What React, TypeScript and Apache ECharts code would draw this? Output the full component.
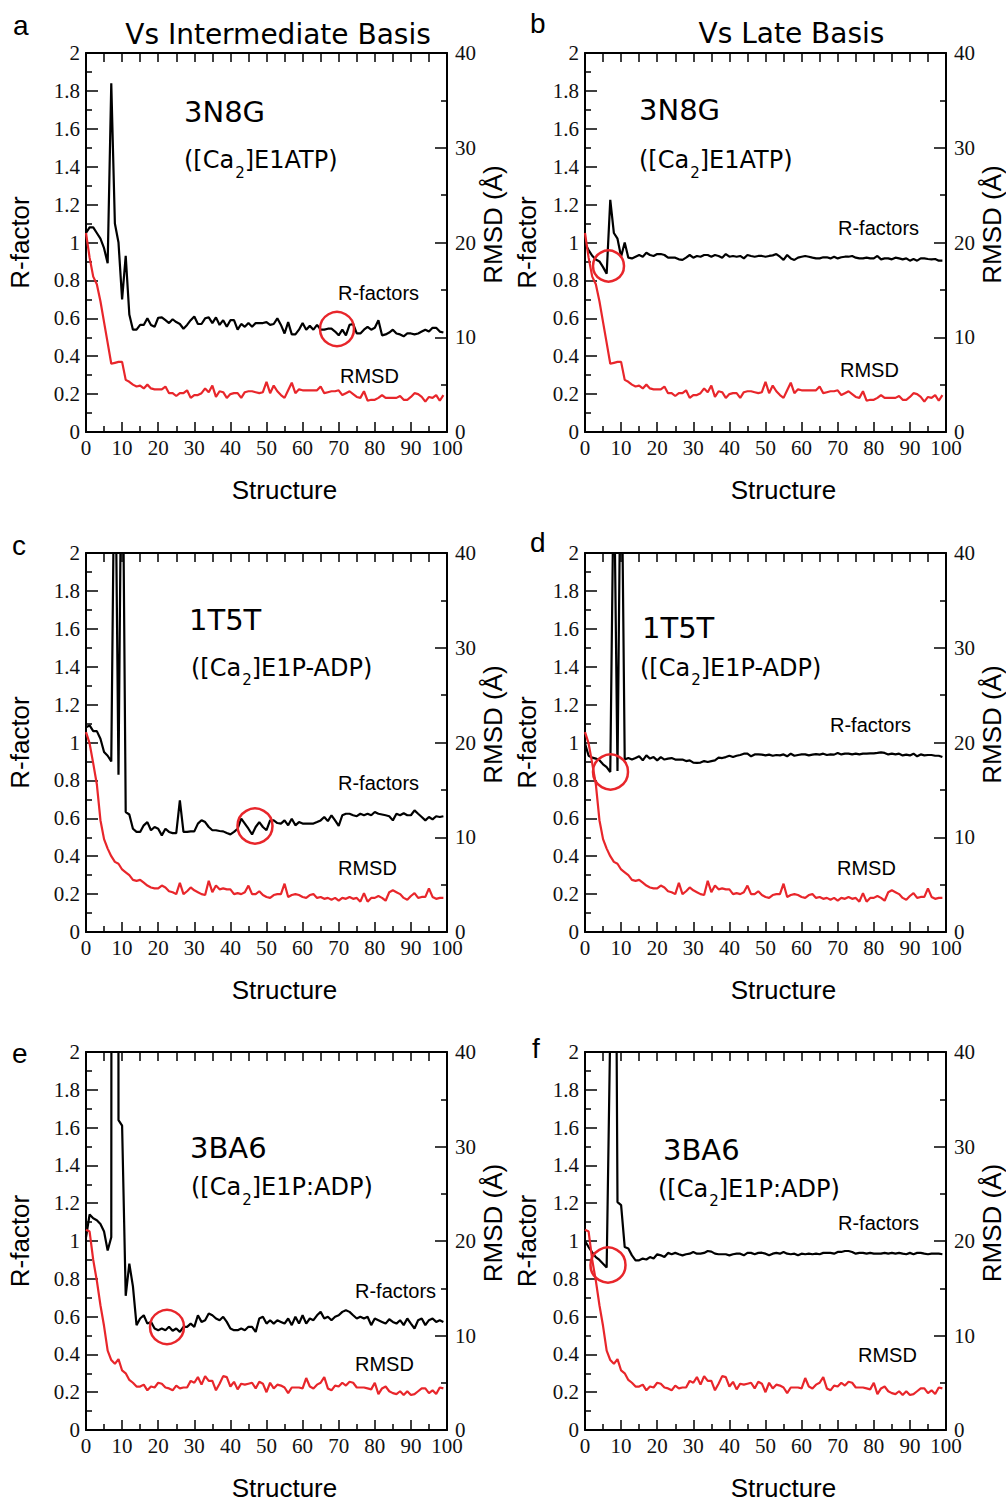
import React, { useEffect, useRef } from "react";
import * as echarts from "echarts";

// ---- R-factor series (left axis) ----
const rfA = [
  1.05, 1.08, 1.08, 1.05, 1.02, 0.97, 0.89, 1.84, 1.10, 1.00,
  0.70, 0.93, 0.62, 0.54, 0.54, 0.565, 0.565, 0.60, 0.565, 0.555,
  0.603, 0.605, 0.59, 0.575, 0.595, 0.58, 0.57, 0.545, 0.565, 0.59,
  0.61, 0.57, 0.57, 0.60, 0.605, 0.575, 0.605, 0.565, 0.59, 0.555,
  0.59, 0.59, 0.54, 0.57, 0.555, 0.575, 0.555, 0.575, 0.575, 0.575,
  0.58, 0.565, 0.57, 0.60, 0.565, 0.52, 0.58, 0.515, 0.515, 0.54,
  0.575, 0.54, 0.56, 0.54, 0.565, 0.54, 0.54, 0.545, 0.545, 0.53,
  0.51, 0.54, 0.51, 0.565, 0.57, 0.52, 0.52, 0.54, 0.555, 0.54,
  0.55, 0.59, 0.51, 0.515, 0.525, 0.54, 0.52, 0.515, 0.505, 0.52,
  0.52, 0.515, 0.52, 0.53, 0.54, 0.53, 0.55, 0.55, 0.53, 0.525,
];
const rfB = [
  0.995, 0.96, 0.93, 0.91, 0.90, 0.87, 0.835, 1.225, 1.05, 1.02,
  0.925, 1.0, 0.92, 0.916, 0.925, 0.934, 0.925, 0.946, 0.934, 0.929,
  0.939, 0.939, 0.934, 0.92, 0.92, 0.92, 0.911, 0.908, 0.92, 0.934,
  0.92, 0.929, 0.925, 0.934, 0.934, 0.925, 0.934, 0.929, 0.92, 0.939,
  0.925, 0.929, 0.925, 0.929, 0.916, 0.934, 0.929, 0.925, 0.929, 0.929,
  0.925, 0.929, 0.932, 0.939, 0.925, 0.908, 0.934, 0.916, 0.908, 0.92,
  0.925, 0.929, 0.925, 0.92, 0.916, 0.916, 0.922, 0.922, 0.916, 0.925,
  0.916, 0.922, 0.925, 0.925, 0.929, 0.92, 0.916, 0.916, 0.92, 0.916,
  0.916, 0.929, 0.911, 0.916, 0.916, 0.911, 0.92, 0.916, 0.911, 0.916,
  0.904, 0.913, 0.904, 0.916, 0.916, 0.913, 0.911, 0.913, 0.904, 0.904,
];
const rfC = [
  1.08, 1.09, 1.06, 1.06, 1.02, 0.95, 0.93, 0.90, 2.8, 0.83,
  3.0, 0.633, 0.62, 0.545, 0.528, 0.528, 0.563, 0.58, 0.537, 0.554,
  0.545, 0.51, 0.545, 0.528, 0.522, 0.522, 0.695, 0.528, 0.528, 0.531,
  0.531, 0.572, 0.59, 0.58, 0.554, 0.537, 0.537, 0.533, 0.531, 0.522,
  0.515, 0.528, 0.545, 0.598, 0.572, 0.545, 0.515, 0.554, 0.58, 0.554,
  0.537, 0.589, 0.589, 0.575, 0.572, 0.589, 0.563, 0.598, 0.563, 0.58,
  0.572, 0.572, 0.572, 0.572, 0.58, 0.589, 0.607, 0.585, 0.616, 0.589,
  0.56, 0.616, 0.624, 0.624, 0.616, 0.611, 0.624, 0.616, 0.624, 0.616,
  0.633, 0.624, 0.62, 0.616, 0.611, 0.589, 0.624, 0.616, 0.627, 0.616,
  0.616, 0.642, 0.624, 0.607, 0.589, 0.607, 0.594, 0.611, 0.607, 0.611,
];
const rfD = [
  0.994, 0.93, 0.92, 0.915, 0.906, 0.885, 0.87, 0.844, 2.5, 0.85,
  2.8, 0.91, 0.918, 0.91, 0.918, 0.927, 0.906, 0.932, 0.915, 0.923,
  0.906, 0.923, 0.91, 0.915, 0.918, 0.91, 0.91, 0.91, 0.902, 0.906,
  0.894, 0.892, 0.894, 0.902, 0.897, 0.902, 0.906, 0.92, 0.918, 0.923,
  0.93, 0.923, 0.93, 0.934, 0.941, 0.941, 0.927, 0.937, 0.937, 0.936,
  0.932, 0.936, 0.93, 0.934, 0.932, 0.937, 0.927, 0.941, 0.93, 0.934,
  0.937, 0.937, 0.932, 0.936, 0.939, 0.936, 0.941, 0.934, 0.937, 0.936,
  0.945, 0.937, 0.941, 0.941, 0.937, 0.941, 0.937, 0.941, 0.941, 0.943,
  0.943, 0.945, 0.948, 0.945, 0.937, 0.941, 0.937, 0.941, 0.932, 0.936,
  0.932, 0.941, 0.927, 0.937, 0.932, 0.934, 0.934, 0.93, 0.93, 0.923,
];
const rfE = [
  1.02, 1.14, 1.12, 1.11, 1.09, 1.05, 0.95, 1.02, 30, 1.64,
  1.61, 0.71, 0.88, 0.76, 0.555, 0.59, 0.607, 0.563, 0.572, 0.537,
  0.528, 0.537, 0.528, 0.546, 0.525, 0.537, 0.519, 0.546, 0.546, 0.563,
  0.546, 0.607, 0.572, 0.581, 0.616, 0.607, 0.59, 0.581, 0.599, 0.572,
  0.537, 0.528, 0.528, 0.537, 0.528, 0.546, 0.546, 0.519, 0.59, 0.599,
  0.563, 0.581, 0.563, 0.581, 0.572, 0.563, 0.59, 0.555, 0.599, 0.563,
  0.607, 0.563, 0.59, 0.581, 0.607, 0.625, 0.59, 0.599, 0.581, 0.599,
  0.607, 0.625, 0.634, 0.625, 0.607, 0.59, 0.599, 0.59, 0.599, 0.555,
  0.59, 0.581, 0.572, 0.563, 0.586, 0.572, 0.563, 0.581, 0.555, 0.59,
  0.563, 0.537, 0.581, 0.59, 0.555, 0.581, 0.59, 0.572, 0.581, 0.572,
];
const rfF = [
  1.0, 0.968, 0.94, 0.915, 0.90, 0.88, 0.86, 2.13, 4.66, 1.206,
  1.19, 0.968, 0.96, 0.924, 0.898, 0.898, 0.907, 0.902, 0.915, 0.907,
  0.93, 0.924, 0.915, 0.937, 0.93, 0.937, 0.93, 0.924, 0.93, 0.933,
  0.942, 0.933, 0.933, 0.937, 0.947, 0.944, 0.933, 0.93, 0.93, 0.93,
  0.924, 0.93, 0.933, 0.933, 0.924, 0.937, 0.937, 0.93, 0.937, 0.938,
  0.933, 0.924, 0.933, 0.937, 0.933, 0.942, 0.933, 0.93, 0.933, 0.924,
  0.933, 0.93, 0.933, 0.93, 0.933, 0.93, 0.937, 0.937, 0.937, 0.933,
  0.942, 0.942, 0.947, 0.947, 0.942, 0.933, 0.937, 0.937, 0.933, 0.937,
  0.933, 0.933, 0.933, 0.937, 0.933, 0.937, 0.933, 0.937, 0.933, 0.93,
  0.937, 0.93, 0.937, 0.937, 0.933, 0.93, 0.933, 0.933, 0.933, 0.93,
];

// ---- RMSD series in Å (right axis) ----
const rmsd3N8G = [
  21.0, 18.4, 16.4, 15.6, 13.8, 11.6, 9.4, 7.2, 7.3, 7.4,
  7.4, 5.5, 5.3, 5.0, 4.8, 4.9, 4.6, 5.0, 4.6, 4.5,
  4.5, 4.5, 4.8, 4.1, 4.1, 3.8, 4.1, 4.1, 4.4, 3.6,
  3.9, 3.9, 4.1, 4.6, 4.2, 4.9, 3.7, 4.3, 4.2, 3.6,
  4.0, 4.1, 4.1, 3.6, 4.2, 4.3, 4.3, 4.2, 4.1, 4.2,
  5.3, 4.1, 4.9, 4.3, 3.9, 3.6, 4.4, 5.2, 4.1, 4.5,
  4.4, 4.4, 4.4, 4.4, 4.4, 4.8, 4.1, 4.2, 4.3, 4.3,
  4.4, 3.9, 4.1, 4.3, 4.0, 3.7, 3.6, 4.3, 3.3, 3.4,
  3.4, 3.6, 3.9, 3.6, 3.6, 3.6, 3.6, 3.8, 3.4, 3.4,
  3.7, 4.1, 4.0, 3.7, 3.2, 3.7, 3.6, 3.9, 3.3, 3.9,
];
const rmsd1T5T = [
  21.1, 19.9, 17.8, 15.6, 11.8, 9.8, 8.8, 8.0, 7.4, 7.2,
  6.6, 6.3, 6.0, 5.5, 5.4, 5.5, 5.2, 4.9, 4.7, 4.6,
  4.6, 4.9, 4.7, 4.3, 4.2, 4.0, 5.2, 4.0, 4.3, 4.7,
  4.4, 4.2, 4.0, 3.9, 5.4, 4.2, 4.9, 4.5, 4.6, 4.5,
  4.5, 4.0, 4.1, 4.0, 4.2, 4.9, 4.0, 4.0, 4.3, 3.9,
  3.7, 3.6, 3.9, 4.0, 4.0, 5.1, 3.7, 3.9, 4.0, 3.9,
  3.7, 3.6, 3.9, 4.0, 3.6, 3.7, 3.5, 3.6, 3.4, 3.6,
  3.3, 3.6, 3.5, 3.7, 3.5, 3.6, 3.2, 4.1, 3.2, 3.6,
  3.6, 3.8, 3.6, 3.3, 4.2, 4.4, 4.2, 4.0, 3.6, 3.4,
  3.8, 4.1, 3.6, 3.7, 3.7, 4.6, 3.7, 3.5, 3.6, 3.6,
];
const rmsd3BA6 = [
  21.2, 21.0, 18.0, 15.8, 13.2, 11.0, 8.4, 7.4, 7.0, 7.5,
  6.3, 6.0, 5.3, 5.0, 4.6, 4.6, 4.8, 4.2, 4.6, 4.5,
  5.0, 4.9, 4.5, 4.4, 4.2, 4.7, 4.4, 4.5, 4.5, 5.2,
  5.0, 5.6, 4.8, 5.7, 5.2, 5.2, 4.2, 4.9, 5.7, 5.6,
  4.6, 5.1, 4.3, 4.9, 4.8, 4.9, 5.0, 4.4, 5.1, 4.9,
  4.0, 5.0, 4.4, 4.8, 4.7, 4.5, 3.9, 4.5, 4.5, 4.5,
  4.4, 5.5, 4.6, 4.4, 4.8, 5.0, 5.6, 4.4, 4.2, 4.7,
  4.6, 5.0, 4.7, 5.1, 5.0, 4.5, 4.5, 4.5, 4.4, 4.3,
  5.0, 3.8, 4.4, 4.6, 4.1, 3.9, 3.8, 4.1, 3.7, 4.1,
  3.7, 3.8, 4.1, 4.4, 4.4, 3.9, 4.2, 3.8, 4.5, 4.4,
];

// ---- tick / text content ----
const xTicks = [0, 10, 20, 30, 40, 50, 60, 70, 80, 90, 100];
const rTicks = [0, 0.2, 0.4, 0.6, 0.8, 1, 1.2, 1.4, 1.6, 1.8, 2];
const rmsdTicks = [0, 10, 20, 30, 40];
const panelLetters = ["a", "b", "c", "d", "e", "f"];
const columnTitles = ["Vs Intermediate Basis", "Vs Late Basis"];
const structureNames = ["3N8G", "3N8G", "1T5T", "1T5T", "3BA6", "3BA6"];
const stateNames = ["E1ATP", "E1ATP", "E1P-ADP", "E1P-ADP", "E1P:ADP", "E1P:ADP"];

const RED = "#e8262b";
const SANS = "'Liberation Sans', Arial, sans-serif";
const SERIF = "'Liberation Serif', 'Times New Roman', serif";
const DEJA = "'DejaVu Sans', sans-serif";

// layout (pixels)
const LAYOUT = [
  { left: 86, top: 53, width: 361, height: 379 },
  { left: 585, top: 53, width: 362, height: 379 },
  { left: 86, top: 553, width: 361, height: 379 },
  { left: 585, top: 553, width: 362, height: 379 },
  { left: 86, top: 1052, width: 361, height: 378 },
  { left: 585, top: 1052, width: 362, height: 378 },
];
const LEFT_NAME_GAP = [53, 45, 53, 45, 53, 45];
const RF = [rfA, rfB, rfC, rfD, rfE, rfF];
const RMSD = [rmsd3N8G, rmsd3N8G, rmsd1T5T, rmsd1T5T, rmsd3BA6, rmsd3BA6];

// annotation positions (pixels)
const LETTER_POS = [[13, 25], [530, 23.5], [12, 545], [530, 542], [12, 1053], [532, 1048]];
const NAME_POS = [[184, 111.5], [639, 110], [189, 619.5], [642, 627.5], [190, 1147.5], [663, 1150]];
const STATE_POS = [[184, 160], [639, 160], [191, 667.5], [640, 667.5], [191, 1187], [658, 1188.5]];
const RF_LABEL_POS = [[338, 293], [838, 228], [338, 783], [830, 724.5], [355, 1291], [838, 1223]];
const RMSD_LABEL_POS = [[340, 375.5], [840, 369.5], [338, 868], [837, 868], [355, 1364], [858, 1354.5]];
const CIRCLES = [[337, 329, 17], [608.5, 266, 15.5], [255, 826, 17.5], [610.5, 772, 17.5], [167, 1327, 17], [608, 1265, 17.5]];

const axisLineStyle = { color: "#000", width: 2 };
const tickLineStyle = { color: "#000", width: 1.5 };
const tickLabel = { fontFamily: SERIF, fontSize: 21, color: "#111" };

function buildOption() {
  const grid: any[] = [];
  const xAxis: any[] = [];
  const yAxis: any[] = [];
  const series: any[] = [];
  const graphic: any[] = [];

  LAYOUT.forEach((g, i) => {
    grid.push({ left: g.left, top: g.top, width: g.width, height: g.height, show: false });
    xAxis.push({
      gridIndex: i, type: "value", position: "bottom",
      min: xTicks[0], max: xTicks[xTicks.length - 1], interval: xTicks[1] - xTicks[0],
      axisLine: { show: true, onZero: false, lineStyle: axisLineStyle },
      axisTick: { show: true, inside: true, length: 10, lineStyle: tickLineStyle },
      minorTick: { show: true, splitNumber: 2, length: 6, lineStyle: tickLineStyle },
      splitLine: { show: false },
      axisLabel: { show: true, margin: 5, ...tickLabel, showMinLabel: true, showMaxLabel: true },
      name: "Structure", nameLocation: "middle", nameGap: 45,
      nameTextStyle: { fontFamily: SANS, fontSize: 26, color: "#000", padding: [0, 0, 0, 36] },
    });
    xAxis.push({
      gridIndex: i, type: "value", position: "top",
      min: xTicks[0], max: xTicks[xTicks.length - 1], interval: xTicks[1] - xTicks[0],
      axisLine: { show: true, onZero: false, lineStyle: axisLineStyle },
      axisTick: { show: true, inside: true, length: 9, lineStyle: tickLineStyle },
      minorTick: { show: true, splitNumber: 2, length: 9, lineStyle: tickLineStyle },
      splitLine: { show: false },
      axisLabel: { show: false },
    });
    yAxis.push({
      gridIndex: i, type: "value", position: "left",
      min: rTicks[0], max: rTicks[rTicks.length - 1], interval: 0.2,
      axisLine: { show: true, onZero: false, lineStyle: axisLineStyle },
      axisTick: { show: true, inside: true, length: 12, lineStyle: tickLineStyle },
      minorTick: { show: true, splitNumber: 2, length: 6, lineStyle: tickLineStyle },
      splitLine: { show: false },
      axisLabel: { show: true, margin: 6, ...tickLabel, showMinLabel: true, showMaxLabel: true },
      name: "R-factor", nameLocation: "middle", nameGap: LEFT_NAME_GAP[i], nameRotate: 90,
      nameTextStyle: { fontFamily: SANS, fontSize: 26, color: "#000" },
    });
    yAxis.push({
      gridIndex: i, type: "value", position: "right",
      min: rmsdTicks[0], max: rmsdTicks[rmsdTicks.length - 1], interval: 10,
      axisLine: { show: true, onZero: false, lineStyle: axisLineStyle },
      axisTick: { show: true, inside: true, length: 12, lineStyle: tickLineStyle },
      minorTick: { show: true, splitNumber: 2, length: 6, lineStyle: tickLineStyle },
      splitLine: { show: false },
      axisLabel: { show: true, margin: 8, ...tickLabel, showMinLabel: true, showMaxLabel: true },
      name: "RMSD (Å)", nameLocation: "middle", nameGap: 33, nameRotate: 90,
      nameTextStyle: { fontFamily: SANS, fontSize: 26, color: "#000", padding: [0, 0, 0, 36] },
    });

    series.push({
      type: "line", name: "R-factors " + panelLetters[i],
      xAxisIndex: 2 * i, yAxisIndex: 2 * i,
      data: RF[i].map((v, k) => [k, v]),
      showSymbol: false, symbol: "none", clip: true,
      lineStyle: { color: "#000", width: 2.2 }, z: 3,
    });
    series.push({
      type: "line", name: "RMSD " + panelLetters[i],
      xAxisIndex: 2 * i, yAxisIndex: 2 * i + 1,
      data: RMSD[i].map((v, k) => [k, v]),
      showSymbol: false, symbol: "none", clip: true,
      lineStyle: { color: RED, width: 2.2 }, z: 4,
    });

    graphic.push({
      type: "text", x: LETTER_POS[i][0], y: LETTER_POS[i][1],
      style: { text: panelLetters[i], fontFamily: SANS, fontSize: 28, fill: "#000", align: "left", verticalAlign: "middle" },
    });
    graphic.push({
      type: "text", x: NAME_POS[i][0], y: NAME_POS[i][1],
      style: { text: structureNames[i], fontFamily: DEJA, fontSize: 29, fill: "#000", align: "left", verticalAlign: "middle" },
    });
    graphic.push({
      type: "text", x: STATE_POS[i][0], y: STATE_POS[i][1],
      style: {
        text: "{m|([Ca}{s|2}{m|]" + stateNames[i] + ")}",
        rich: {
          m: { fontFamily: DEJA, fontSize: 24, fill: "#000" },
          s: { fontFamily: DEJA, fontSize: 15, fill: "#000", padding: [25, 0, 0, 1] },
        },
        align: "left", verticalAlign: "middle",
      },
    });
    graphic.push({
      type: "text", x: RF_LABEL_POS[i][0], y: RF_LABEL_POS[i][1],
      style: { text: "R-factors", fontFamily: SANS, fontSize: 20, fill: "#000", align: "left", verticalAlign: "middle" },
    });
    graphic.push({
      type: "text", x: RMSD_LABEL_POS[i][0], y: RMSD_LABEL_POS[i][1],
      style: { text: "RMSD", fontFamily: SANS, fontSize: 20, fill: "#000", align: "left", verticalAlign: "middle" },
    });
    graphic.push({
      type: "circle", shape: { cx: CIRCLES[i][0], cy: CIRCLES[i][1], r: CIRCLES[i][2] },
      style: { fill: "none", stroke: RED, lineWidth: 2.5 }, z: 100,
    });
  });

  graphic.push({
    type: "text", x: 278, y: 34,
    style: { text: columnTitles[0], fontFamily: DEJA, fontSize: 28, fill: "#000", align: "center", verticalAlign: "middle" },
  });
  graphic.push({
    type: "text", x: 791.5, y: 33,
    style: { text: columnTitles[1], fontFamily: DEJA, fontSize: 28, fill: "#000", align: "center", verticalAlign: "middle" },
  });

  return {
    animation: false,
    backgroundColor: "#fff",
    grid, xAxis, yAxis, series, graphic,
  };
}

export default function App() {
  const ref = useRef<HTMLDivElement>(null);
  useEffect(() => {
    if (!ref.current) return;
    const chart = echarts.init(ref.current, null, { renderer: "svg" });
    chart.setOption(buildOption() as any);
    return () => chart.dispose();
  }, []);
  return (
    <div
      ref={ref}
      style={{ position: "absolute", left: 0, top: 0, width: 1006, height: 1506, background: "#fff" }}
    />
  );
}
